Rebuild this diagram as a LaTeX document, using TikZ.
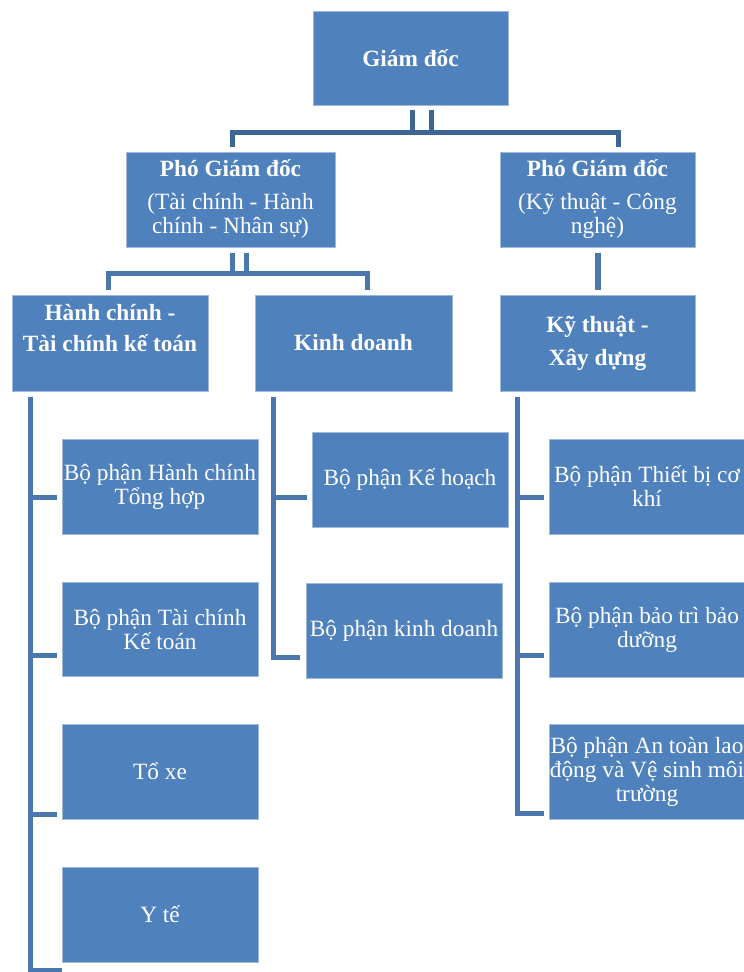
\documentclass[tikz,border=0pt]{standalone}
\usepackage{fontspec}
\setmainfont{Liberation Serif}
\definecolor{boxblue}{HTML}{4F81BD}
\definecolor{linkblue}{HTML}{4A77AE}
\definecolor{busblue}{HTML}{3E6695}

\begin{document}
\begin{tikzpicture}[x=1pt,y=-1pt,
  box/.style={rectangle,fill=boxblue,draw=boxblue!55!white,line width=.6pt,
    text=white,align=center,inner sep=1pt,minimum width=196pt,minimum height=95pt,
    font=\fontsize{23.3}{24}\selectfont},
  boldbox/.style={box,font=\fontsize{23.3}{24}\selectfont\bfseries},
  link/.style={draw=linkblue,line width=5pt},
  bus/.style={draw=busblue,line width=5pt}]
\useasboundingbox[fill=white] (0,0) rectangle (744,972);

% top levels
\node[boldbox,minimum width=195pt,minimum height=94pt] (gd) at (410.5,58) {Giám đốc};
\node[box,minimum width=209pt] (pgd1) at (230.5,199.5) {\textbf{Phó Giám đốc}\\[9pt](Tài chính - Hành\\chính - Nhân sự)};
\node[box,minimum width=195pt] (pgd2) at (597.5,199.5) {\textbf{Phó Giám đốc}\\[9pt](Kỹ thuật - Công\\nghệ)};

% departments
\node[boldbox,minimum height=96pt] (hc) at (110,343) {Hành chính -\\[7pt]Tài chính kế toán\\[7pt]~};
\node[boldbox,minimum width=197pt,minimum height=96pt] (kd) at (353.5,343) {Kinh doanh};
\node[boldbox,minimum width=195pt,minimum height=96pt] (kt) at (597.5,343) {Kỹ thuật -\\[9pt]Xây dựng};

% units
\node[box] (hcth) at (160,486.5) {Bộ phận Hành chính\\Tổng hợp};
\node[box,minimum height=94pt] (tckt) at (160,629) {Bộ phận Tài chính\\Kế toán};
\node[box] (toxe) at (160,771.5) {Tổ xe};
\node[box] (yte) at (160,914.5) {Y tế};
\node[box] (kh) at (410,479.5) {Bộ phận Kế hoạch};
\node[box] (bpkd) at (404,630.5) {Bộ phận kinh doanh};
\node[box] (tb) at (647,486.5) {Bộ phận Thiết bị cơ\\khí};
\node[box] (bt) at (647,629.5) {Bộ phận bảo trì bảo\\dưỡng};
\node[box] (at) at (647,771.5) {Bộ phận An toàn lao\\động và Vệ sinh môi\\trường};

% connectors
\coordinate (bus0) at (421,132);
\coordinate (bus1) at (239,273);
\draw[bus] ([xshift=1.5pt,yshift=-5pt]gd.south) -- ++(0,22);
\draw[bus] ([xshift=20.5pt,yshift=-5pt]gd.south) -- ++(0,22);
\draw[bus] ([xshift=1.5pt,yshift=5pt]pgd1.north) |- (bus0) -| ([xshift=20.5pt,yshift=5pt]pgd2.north);
\draw[link] ([xshift=1.5pt,yshift=-6pt]pgd1.south) -- ++(0,20);
\draw[link] ([xshift=15.5pt,yshift=-6pt]pgd1.south) -- ++(0,20);
\draw[link] ([xshift=-2pt,yshift=5pt]hc.north) |- (bus1) -| ([xshift=13.5pt,yshift=5pt]kd.north);
\draw[link,line width=6pt] ([yshift=-6pt]pgd2.south) -- ([yshift=5pt]kt.north);

\draw[link] ([xshift=-80pt,yshift=-6pt]hc.south) |- ([xshift=-5pt,yshift=-10.5pt]hcth.west);
\draw[link] ([xshift=-80pt,yshift=-6pt]hc.south) |- ([xshift=-5pt,yshift=-26pt]tckt.west);
\draw[link] ([xshift=-80pt,yshift=-6pt]hc.south) |- ([xshift=-5pt,yshift=-42.5pt]toxe.west);
\draw[link] ([xshift=-80pt,yshift=-6pt]hc.south) |- ([yshift=-55.5pt]yte.west);

\draw[link] ([xshift=-80.5pt,yshift=-6pt]kd.south) |- ([xshift=-5pt,yshift=-17.5pt]kh.west);
\draw[link] ([xshift=-80.5pt,yshift=-6pt]kd.south) |- ([xshift=-6pt,yshift=-26.5pt]bpkd.west);

\draw[link] ([xshift=-80.5pt,yshift=-6pt]kt.south) |- ([xshift=-5pt,yshift=-10.5pt]tb.west);
\draw[link] ([xshift=-80.5pt,yshift=-6pt]kt.south) |- ([xshift=-5pt,yshift=-25.5pt]bt.west);
\draw[link] ([xshift=-80.5pt,yshift=-6pt]kt.south) |- ([xshift=-5pt,yshift=-41.5pt]at.west);
\end{tikzpicture}
\end{document}
